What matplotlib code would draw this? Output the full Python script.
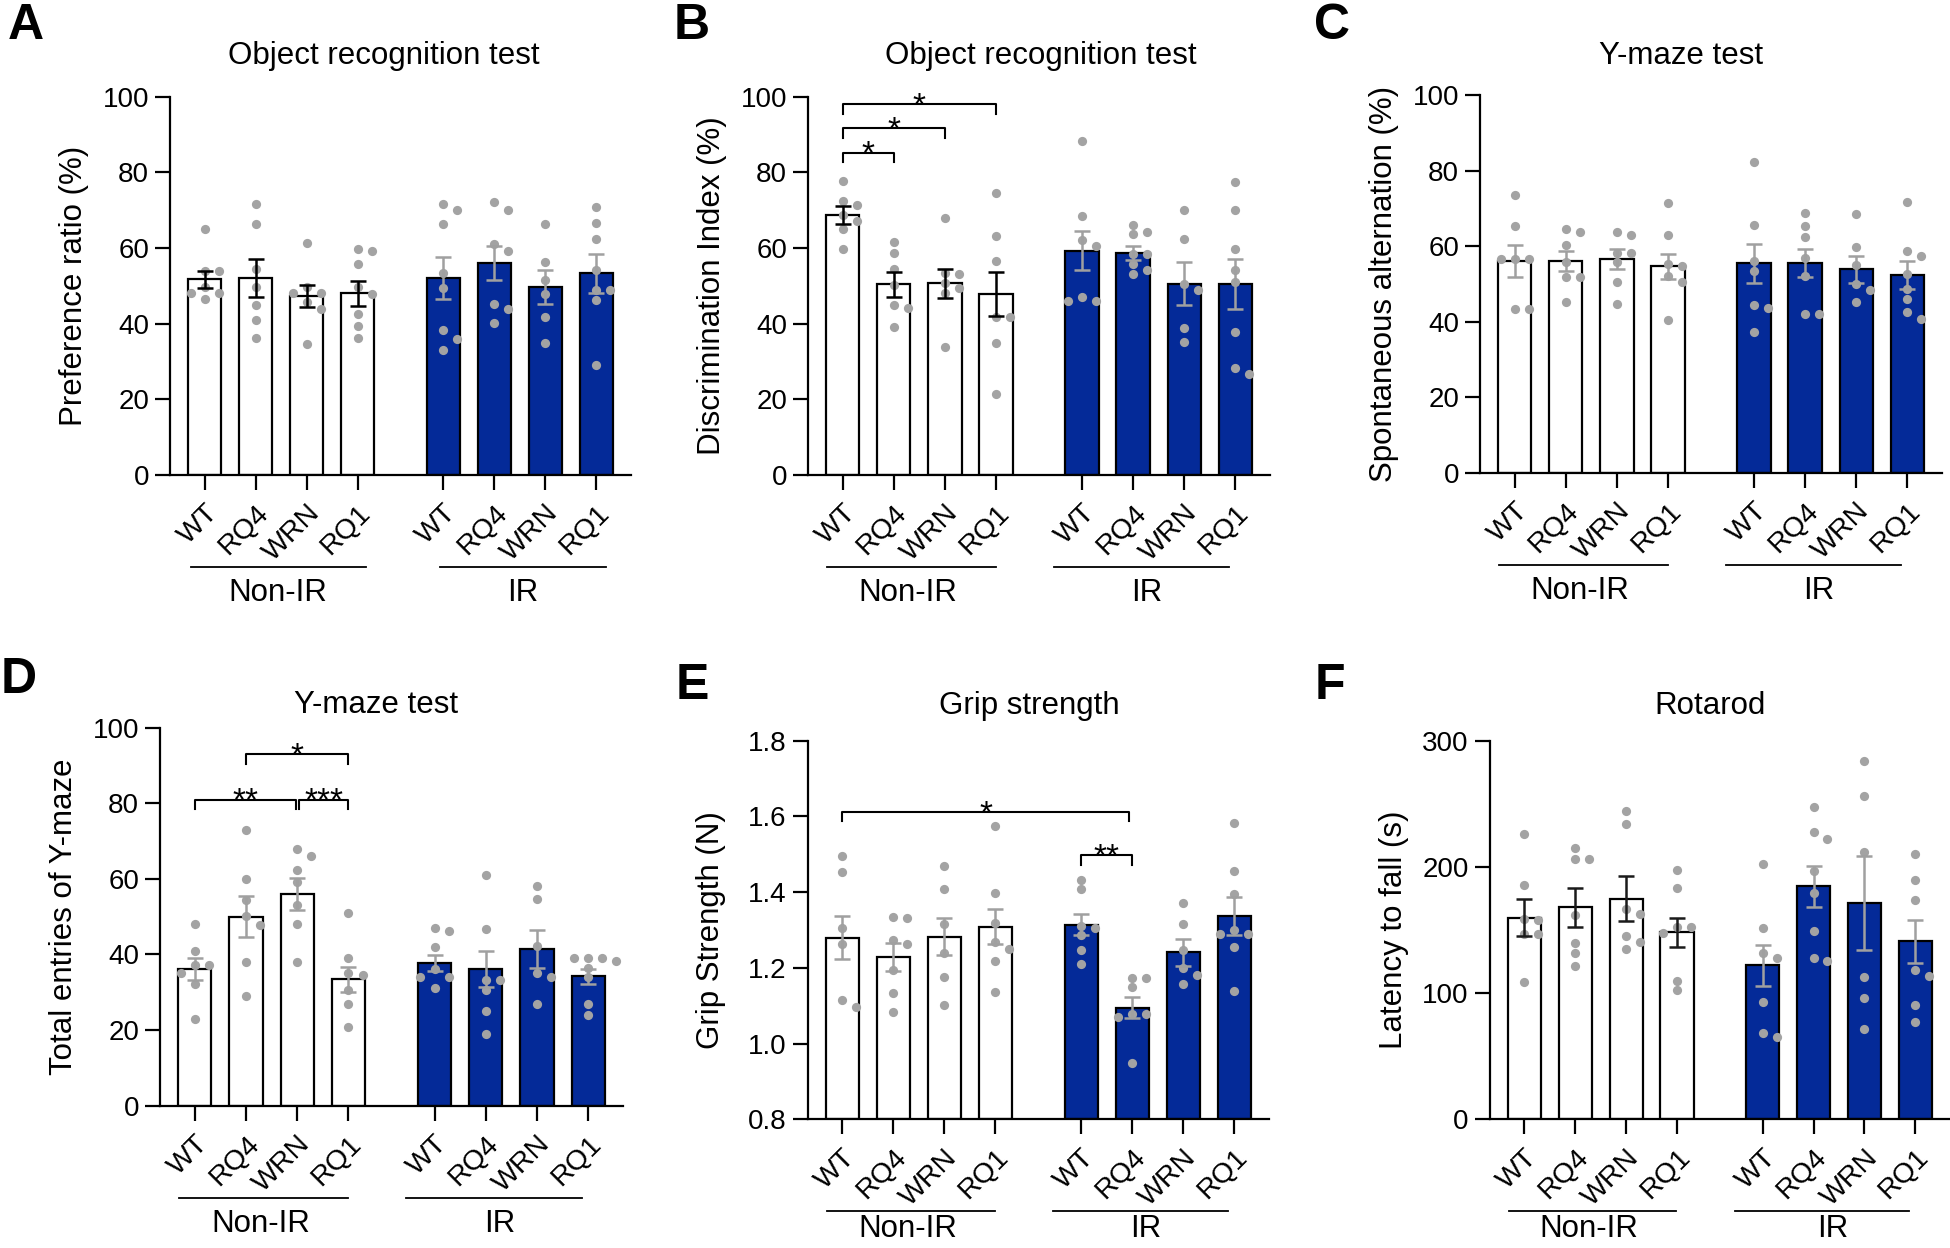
import numpy as np
import matplotlib
matplotlib.use("Agg")
import matplotlib.pyplot as plt
from matplotlib.transforms import blended_transform_factory, ScaledTranslation

plt.rcParams['font.family'] = ['Liberation Sans', 'DejaVu Sans']

W, H = 1950, 1248
BLUE = "#042a98"
DOT = "#a3a3a3"
ERR_GREY = "#a0a0a0"

groups = ["WT", "RQ4", "WRN", "RQ1", "WT", "RQ4", "WRN", "RQ1"]
xpos = np.r_[np.arange(4), np.arange(4) + 4.68]

# ---- A: preference ratio
a_mean = [51.7, 52.0, 47.2, 48.0, 52.1, 56.0, 49.7, 53.3]
a_sem = [2.3, 5.0, 2.9, 3.3, 5.6, 4.4, 4.6, 5.1]
a_pts = [
    [65.1, 53.8, 53.8, 49.6, 48.0, 48.0, 46.5],
    [71.7, 66.4, 54.5, 49.6, 45.0, 41.0, 36.3],
    [61.2, 49.7, 48.2, 48.2, 45.7, 44.0, 34.6],
    [59.6, 59.1, 55.8, 49.8, 47.8, 42.5, 39.4, 36.1],
    [71.7, 69.9, 66.4, 53.5, 49.4, 38.3, 36.0, 33.1],
    [72.2, 69.9, 61.1, 59.3, 45.1, 44.0, 40.2],
    [66.3, 56.2, 51.6, 47.8, 41.7, 35.0],
    [70.8, 66.7, 62.4, 54.1, 48.8, 48.8, 46.3, 29.2],
]

# ---- B: discrimination index
b_mean = [68.6, 50.4, 50.7, 47.8, 59.3, 58.7, 50.6, 50.4]
b_sem = [2.4, 3.3, 3.8, 5.9, 5.1, 1.8, 5.6, 6.6]
b_pts = [
    [77.7, 72.5, 71.4, 68.8, 67.2, 65.1, 59.7],
    [61.6, 58.6, 54.5, 50.2, 45.0, 44.1, 39.2],
    [67.9, 53.5, 53.0, 50.7, 49.5, 48.1, 33.9],
    [74.4, 63.2, 56.5, 41.8, 41.8, 35.0, 21.5],
    [88.2, 68.4, 62.0, 60.4, 47.1, 46.0, 46.0],
    [66.0, 64.1, 63.6, 58.3, 58.3, 55.8, 54.1, 53.0],
    [69.9, 62.5, 50.4, 49.0, 38.8, 35.2],
    [77.4, 69.9, 59.8, 54.1, 50.9, 37.8, 28.3, 26.6],
]

# ---- C: spontaneous alternation
c_mean = [56.2, 56.1, 56.6, 54.7, 55.5, 55.6, 54.0, 52.4]
c_sem = [4.2, 2.6, 2.6, 3.3, 5.1, 3.6, 3.6, 3.7]
c_pts = [
    [73.5, 65.5, 56.6, 56.6, 56.6, 43.4, 43.4],
    [64.6, 63.9, 60.4, 55.8, 51.9, 51.9, 45.4],
    [63.9, 62.9, 58.2, 58.2, 55.8, 50.7, 44.8],
    [71.4, 62.9, 55.3, 54.7, 52.1, 50.5, 40.4],
    [82.3, 65.7, 56.1, 53.4, 44.4, 43.6, 37.3],
    [68.9, 65.5, 62.4, 57.0, 52.1, 42.1, 42.1],
    [68.6, 59.8, 55.1, 50.1, 48.4, 45.3],
    [71.9, 58.8, 57.6, 52.8, 48.6, 46.1, 42.6, 40.7],
]

# ---- D: total entries
d_mean = [36.1, 50.0, 56.1, 33.4, 37.7, 36.1, 41.4, 34.2]
d_sem = [2.9, 5.4, 4.2, 3.3, 2.1, 4.8, 5.0, 2.0]
d_pts = [
    [48.1, 40.9, 37.1, 37.1, 35.1, 32.3, 23.0],
    [72.9, 60.1, 54.3, 50.2, 47.9, 38.1, 29.0],
    [67.8, 66.1, 62.3, 59.1, 53.0, 48.0, 38.0],
    [51.0, 39.0, 35.1, 34.5, 30.6, 26.8, 20.8],
    [46.9, 46.1, 42.0, 36.1, 34.1, 34.1, 31.0],
    [61.0, 46.8, 33.2, 33.2, 30.5, 24.9, 18.9],
    [58.0, 54.8, 42.2, 35.1, 34.0, 26.8],
    [39.0, 39.0, 39.0, 38.2, 36.4, 33.9, 26.8, 23.9],
]

# ---- E: grip strength
e_mean = [1.280, 1.229, 1.282, 1.309, 1.314, 1.095, 1.241, 1.337]
e_sem = [0.057, 0.037, 0.049, 0.047, 0.027, 0.028, 0.035, 0.049]
e_pts = [
    [1.495, 1.453, 1.305, 1.263, 1.114, 1.096],
    [1.335, 1.332, 1.273, 1.262, 1.194, 1.133, 1.084],
    [1.470, 1.409, 1.316, 1.238, 1.177, 1.103],
    [1.574, 1.399, 1.319, 1.268, 1.250, 1.217, 1.136],
    [1.433, 1.409, 1.311, 1.304, 1.287, 1.247, 1.209],
    [1.174, 1.174, 1.149, 1.077, 1.071, 1.077, 0.949],
    [1.371, 1.316, 1.247, 1.199, 1.181, 1.156],
    [1.582, 1.455, 1.394, 1.300, 1.289, 1.289, 1.256, 1.138],
]

# ---- F: rotarod
f_mean = [159.9, 167.9, 174.9, 148.4, 121.9, 184.5, 171.4, 141.1]
f_sem = [14.4, 15.2, 17.6, 11.5, 16.4, 16.6, 37.0, 17.1]
f_pts = [
    [226.0, 186.0, 159.0, 158.0, 147.0, 147.0, 108.5],
    [215.4, 206.2, 206.2, 162.1, 139.5, 132.1, 121.3],
    [244.2, 234.0, 166.6, 162.8, 145.2, 140.4, 134.7],
    [197.9, 183.5, 152.6, 152.6, 147.4, 109.5, 102.1],
    [202.0, 151.3, 132.1, 127.7, 92.6, 68.0, 65.4],
    [247.4, 227.6, 221.8, 196.9, 179.4, 149.0, 127.7, 125.1],
    [284.0, 256.3, 212.2, 112.4, 95.8, 71.8],
    [210.0, 189.9, 174.0, 118.1, 113.9, 90.3, 77.2],
]

# significance brackets: (from x, to x, height, label)
b_sig = [(0, 1, 85.2, "*"), (0, 2, 91.6, "*"), (0, 3, 98.0, "*")]
d_sig = [(0, 1.97, 81.0, "**"), (2.04, 3, 81.0, "***"), (1, 3, 93.1, "*")]
e_sig = [(0, 5.62, 1.612, "*"), (4.68, 5.68, 1.497, "**")]

fig = plt.figure(figsize=(W / 100, H / 100), dpi=100)
PX_X = 51.0


def swarm(vals, x0, px_y, step=14, dy_min=9):
    vals = np.asarray(vals, float)
    xs = np.zeros(len(vals))
    placed = []
    cands = [0]
    for m in range(1, 6):
        cands += [m * step, -m * step]
    for i in np.argsort(-vals, kind="stable"):
        yp = vals[i] * px_y
        for c in cands:
            if all(abs(yp - py) >= dy_min or abs(c - px) >= step * 0.9 for px, py in placed):
                break
        placed.append((c, yp))
        xs[i] = x0 + c / PX_X
    return xs


def panel(box, letter, letter_xy, title, title_xy, ylabel, mean, sem, pts,
          ylim, yticks, yticklabels, nonir_err, sig=(), leg=2.6, label_off=118,
          spans=((-0.3, 3.0, 1.28), (4.13, 7.55, 5.95))):
    left, top, right, bottom = box
    ax = fig.add_axes([left / W, 1 - bottom / H, (right - left) / W, (bottom - top) / H])
    h_px = bottom - top
    px_y = h_px / (ylim[1] - ylim[0])

    colors = ["white"] * 4 + [BLUE] * 4
    ax.bar(xpos, np.array(mean) - ylim[0], bottom=ylim[0], width=0.65, color=colors,
           edgecolor="black", linewidth=1.6, zorder=1)
    for i, vals in enumerate(pts):
        xs = swarm(vals, xpos[i], px_y)
        ax.scatter(xs, vals, s=44, color=DOT, linewidths=0, zorder=2, clip_on=False)
        ec = nonir_err if i < 4 else ERR_GREY
        ax.errorbar(xpos[i], mean[i], yerr=sem[i], fmt="none", ecolor=ec,
                    elinewidth=1.8, capsize=6, capthick=1.8, zorder=3)

    for x1, x2, y, lab in sig:
        ax.plot([x1, x1, x2, x2], [y - leg, y, y, y - leg], color="black", lw=1.5,
                clip_on=False, zorder=4)
        ax.annotate(lab, ((x1 + x2) / 2, y), xytext=(0, -8), textcoords="offset points",
                    ha="center", va="baseline", fontsize=24)

    ax.set_xlim(-0.68, 8.36)
    ax.set_ylim(*ylim)
    ax.set_yticks(yticks)
    ax.set_yticklabels(yticklabels)
    ax.set_xticks(xpos)
    ax.set_xticklabels(groups, rotation=45, ha="right", va="top", rotation_mode="anchor")
    shift = ScaledTranslation(3 / 72, 0, fig.dpi_scale_trans)
    for lab in ax.get_xticklabels():
        lab.set_transform(lab.get_transform() + shift)
    for s in ["top", "right"]:
        ax.spines[s].set_visible(False)
    for s in ["left", "bottom"]:
        ax.spines[s].set_linewidth(1.6)
    ax.tick_params(axis="y", length=11, width=1.6, labelsize=20, pad=4)
    ax.tick_params(axis="x", length=11, width=1.6, labelsize=20.5, pad=7)
    ax.set_ylabel(ylabel, fontsize=22.5)
    ax.yaxis.label.set_verticalalignment("center")
    ax.yaxis.set_label_coords(-96 / (right - left), 0.5)

    tr = blended_transform_factory(ax.transData, ax.transAxes)
    for x1, x2, xl in spans:
        ax.plot([x1, x2], [-92 / h_px] * 2, color="black", lw=1.3, transform=tr, clip_on=False)
    ax.text(spans[0][2], -label_off / h_px, "Non-IR", transform=tr, ha="center", va="center",
            fontsize=22.5)
    ax.text(spans[1][2], -label_off / h_px, "IR", transform=tr, ha="center", va="center",
            fontsize=22.5)

    fig.text(title_xy[0] / W, 1 - title_xy[1] / H, title, ha="center", va="center", fontsize=22.5)
    fig.text(letter_xy[0] / W, 1 - letter_xy[1] / H, letter, ha="center", va="center",
             fontsize=36, fontweight="bold")
    return ax


pct = [0, 20, 40, 60, 80, 100]
pct_lab = [str(v) for v in pct]
grip = [0.8, 1.0, 1.2, 1.4, 1.6, 1.8]
grip_lab = ["0.8", "1.0", "1.2", "1.4", "1.6", "1.8"]
rot = [0, 100, 200, 300]
rot_lab = ["0", "100", "200", "300"]

panel((170, 96.6, 631, 475), "A", (26, 26), "Object recognition test", (384, 56),
      "Preference ratio (%)", a_mean, a_sem, a_pts, (0, 100), pct, pct_lab, "black",
      spans=((-0.27, 3.16, 1.43), (4.62, 7.86, 6.24)))
panel((808, 96.6, 1270, 475), "B", (692, 26), "Object recognition test", (1041, 56),
      "Discrimination Index (%)", b_mean, b_sem, b_pts, (0, 100), pct, pct_lab, "black",
      sig=b_sig, leg=2.6)
panel((1480, 95.4, 1942, 473), "C", (1332, 26), "Y-maze test", (1681, 56),
      "Spontaneous alternation (%)", c_mean, c_sem, c_pts, (0, 100), pct, pct_lab, ERR_GREY)
panel((160, 727.9, 623, 1105.5), "D", (19, 680), "Y-maze test", (376, 705),
      "Total entries of Y-maze", d_mean, d_sem, d_pts, (0, 100), pct, pct_lab, ERR_GREY,
      sig=d_sig, leg=2.6)
panel((807.5, 740.8, 1269, 1119.2), "E", (692, 686), "Grip strength", (1029, 706),
      "Grip Strength (N)", e_mean, e_sem, e_pts, (0.8, 1.8), grip, grip_lab, ERR_GREY,
      sig=e_sig, leg=0.025, label_off=110)
panel((1489.6, 740.8, 1950, 1119.2), "F", (1330, 686), "Rotarod", (1710, 706),
      "Latency to fall (s)", f_mean, f_sem, f_pts, (0, 300), rot, rot_lab, "#1a1a1a",
      label_off=110, spans=((-0.3, 2.98, 1.27), (4.13, 7.55, 6.05)))

fig.savefig("out.png", dpi=100)
